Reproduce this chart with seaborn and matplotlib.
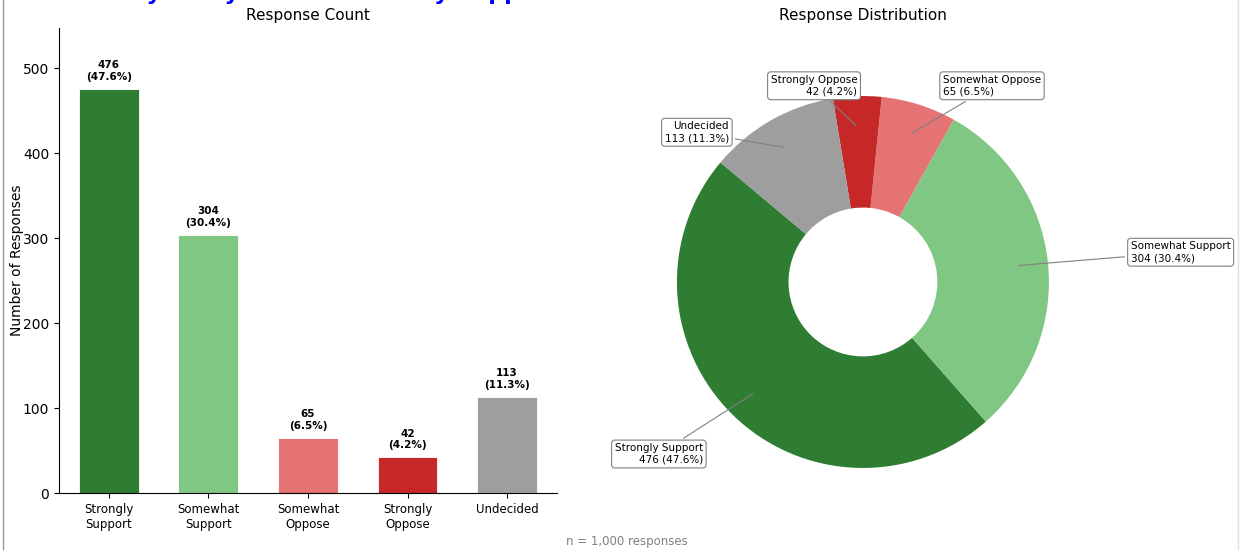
import numpy as np
import matplotlib
matplotlib.use("Agg")
import matplotlib.pyplot as plt
from matplotlib.lines import Line2D
import seaborn as sns

# data
categories = ["Strongly Support", "Somewhat Support", "Somewhat Oppose", "Strongly Oppose", "Undecided"]
tick_labels = ["Strongly\nSupport", "Somewhat\nSupport", "Somewhat\nOppose", "Strongly\nOppose", "Undecided"]
counts = [476, 304, 65, 42, 113]
colors = ["#2e7d32", "#81c784", "#e57373", "#c62828", "#9e9e9e"]

total = sum(counts)
pcts = [c / total * 100 for c in counts]

plt.rcParams["font.family"] = ["DejaVu Sans"]

fig = plt.figure(figsize=(12.41, 5.5), dpi=100)
ax1 = fig.add_axes([0.0475, 0.1036, 0.4013, 0.8455])
ax2 = fig.add_axes([0.508, 0.0255, 0.3747, 0.9236])

# bar chart
sns.barplot(x=categories, y=counts, hue=categories, palette=colors, width=0.6,
            legend=False, ax=ax1, saturation=1, edgecolor="white", linewidth=0.6)
ax1.set_xticks(range(len(categories)))
ax1.set_xticklabels(tick_labels, fontsize=8.5)
ax1.tick_params(axis="y", labelsize=10)
ax1.set_ylim(0, max(counts) * 1.15)
ax1.set_xlabel("")
ax1.set_ylabel("Number of Responses", fontsize=10, labelpad=-1)
ax1.set_title("Response Count", fontsize=11)
bar_text = [f"{c}\n({p:.1f}%)" for c, p in zip(counts, pcts)]
for cont, lab in zip(ax1.containers, bar_text):
    ax1.bar_label(cont, labels=[lab], padding=5, fontsize=7.5, fontweight="bold")
sns.despine(ax=ax1)

# donut chart
wedges, _ = ax2.pie(counts, colors=colors, startangle=140, radius=1,
                    wedgeprops=dict(width=0.6))
ax2.set_aspect("auto")
ax2.set_xlim(-1.25, 1.25)
ax2.set_ylim(-1.3656, 1.3656)
ax2.set_title("Response Distribution", fontsize=11)

# label anchor positions (pie radius units)
label_pos = {
    "Strongly Support": (-0.86, -0.925),
    "Somewhat Support": (1.44, 0.16),
    "Somewhat Oppose": (0.43, 1.055),
    "Strongly Oppose": (-0.03, 1.055),
    "Undecided": (-0.72, 0.805),
}
bbox_props = dict(boxstyle="round,pad=0.3", fc="white", ec="gray", lw=0.8)
for w, cat, c, p in zip(wedges, categories, counts, pcts):
    ang = np.deg2rad((w.theta1 + w.theta2) / 2)
    x, y = np.cos(ang), np.sin(ang)
    tx, ty = label_pos[cat]
    ha = "left" if x > 0.1 else "right"
    ax2.annotate(f"{cat}\n{c} ({p:.1f}%)", xy=(0.83 * x, 0.83 * y), xytext=(tx, ty),
                 ha=ha, va="center", fontsize=7.5, bbox=bbox_props,
                 arrowprops=dict(arrowstyle="-", color="gray", lw=0.8))

# cropped header and footnote
fig.text(0.06, 1.0, "Survey Analysis: Public Policy Support", color="blue",
         fontsize=16, fontweight="bold", va="baseline", ha="left")
fig.text(0.505, 0.016, f"n = {total:,} responses", ha="center", va="center",
         fontsize=8.5, color="gray")

# frame edges of the screenshot
fig.add_artist(Line2D([0.0028, 0.0028], [0, 1], transform=fig.transFigure, color="#999999", lw=1))
fig.add_artist(Line2D([0.9976, 0.9976], [0, 1], transform=fig.transFigure, color="#e0e0e0", lw=1))

fig.savefig("out.png", dpi=100)
